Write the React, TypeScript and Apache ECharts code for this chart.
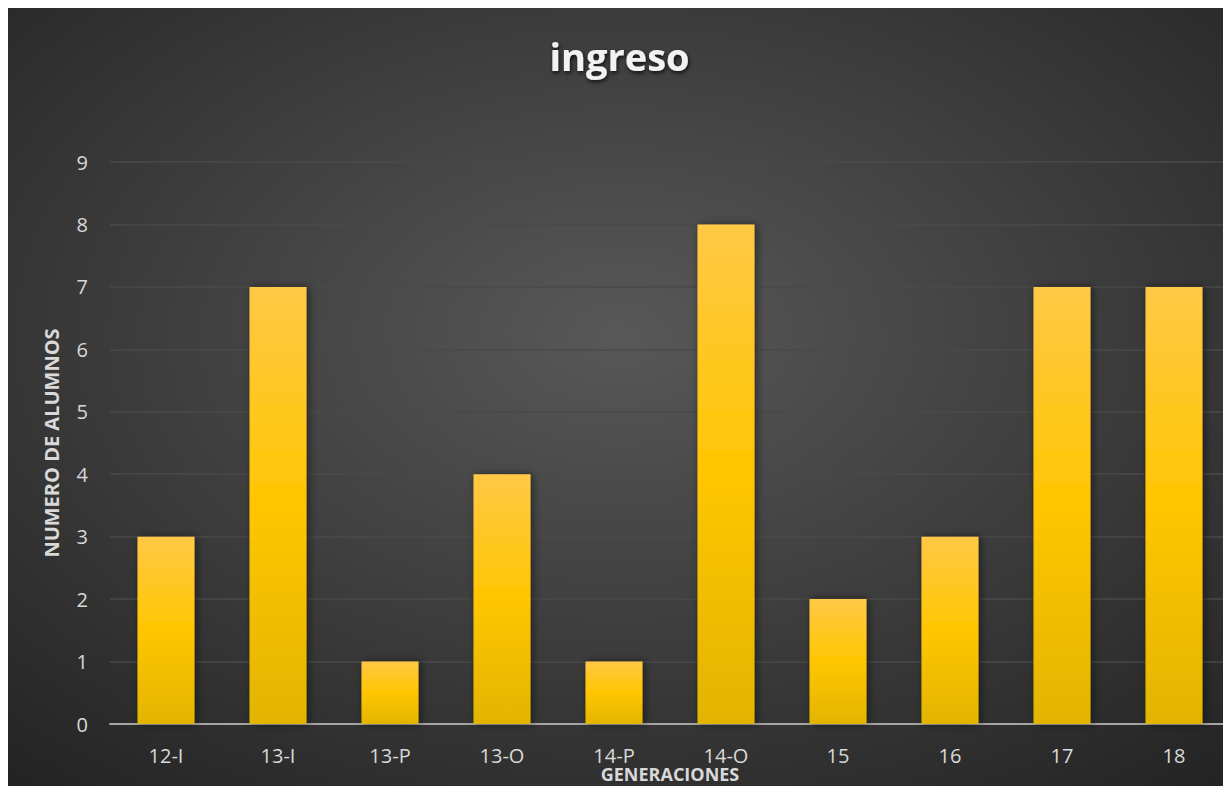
import React, { useEffect, useRef } from "react";
import * as echarts from "echarts";

const categories = ["12-I", "13-I", "13-P", "13-O", "14-P", "14-O", "15", "16", "17", "18"];
const values = [3, 7, 1, 4, 1, 8, 2, 3, 7, 7];
const titleText = "ingreso";
const yAxisName = "NUMERO DE ALUMNOS";
const xAxisName = "GENERACIONES";

export default function App() {
  const ref = useRef<HTMLDivElement>(null);
  useEffect(() => {
    if (!ref.current) return;
    document.documentElement.style.overflow = "hidden";
    document.body.style.overflow = "hidden";
    const chart = echarts.init(ref.current, undefined, { renderer: "svg" });
    const font = "'Open Sans', 'Noto Sans', sans-serif";
    chart.setOption({
      animation: false,
      backgroundColor: {
        type: "radial",
        x: 0.5,
        y: 0.42,
        r: 0.75,
        colorStops: [
          { offset: 0, color: "#585858" },
          { offset: 1, color: "#242424" },
        ],
      },
      title: {
        text: titleText,
        left: "center",
        top: 24,
        textStyle: {
          color: "#f2f2f2",
          fontFamily: font,
          fontWeight: "bold",
          fontSize: 38,
          textShadowColor: "rgba(0,0,0,0.8)",
          textShadowBlur: 4,
          textShadowOffsetX: 1,
          textShadowOffsetY: 2,
        },
      },
      grid: { left: 102, top: 154, width: 1120, bottom: 62, outerBoundsMode: "none", containLabel: false },
      xAxis: {
        type: "category",
        data: categories,
        name: xAxisName,
        nameLocation: "middle",
        nameGap: 41,
        nameMoveOverlap: false,
        nameTextStyle: { color: "#d9d9d9", fontFamily: font, fontWeight: "bold", fontSize: 18 },
        axisLine: { lineStyle: { color: "#a6a6a6", width: 2 } },
        axisTick: { show: false },
        axisLabel: { color: "#d9d9d9", fontFamily: font, fontSize: 20, margin: 21 },
      },
      yAxis: {
        type: "value",
        min: 0,
        max: 9,
        interval: 1,
        name: yAxisName,
        nameLocation: "middle",
        nameGap: 49,
        nameMoveOverlap: false,
        nameTextStyle: { color: "#d9d9d9", fontFamily: font, fontWeight: "bold", fontSize: 20 },
        axisLine: { show: false },
        axisTick: { show: false },
        axisLabel: { color: "#d9d9d9", fontFamily: font, fontSize: 20, margin: 22 },
        splitLine: { lineStyle: { color: "#4a4a4a", width: 1.5 } },
      },
      series: [
        {
          type: "bar",
          data: values,
          barWidth: 57,
          itemStyle: {
            color: {
              type: "linear",
              x: 0,
              y: 0,
              x2: 0,
              y2: 1,
              colorStops: [
                { offset: 0, color: "#ffc845" },
                { offset: 0.5, color: "#ffc600" },
                { offset: 1, color: "#e3b400" },
              ],
            },
            shadowColor: "rgba(0,0,0,0.5)",
            shadowBlur: 8,
            shadowOffsetX: 2,
            shadowOffsetY: 0,
          },
        },
      ],
    });
    return () => chart.dispose();
  }, []);
  return <div ref={ref} style={{ width: 1223, height: 778 }} />;
}
